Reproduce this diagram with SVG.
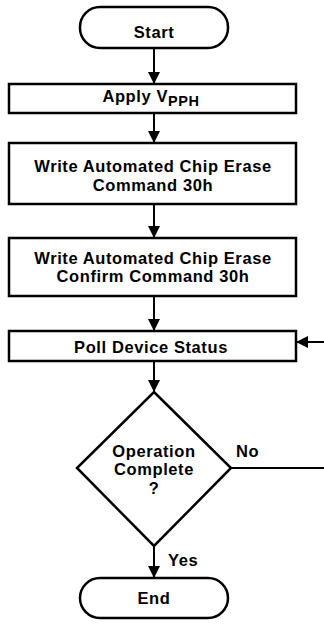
<svg xmlns="http://www.w3.org/2000/svg" width="324" height="624" viewBox="0 0 324 624">
<defs>
<marker id="arr" markerWidth="12" markerHeight="14" refX="12" refY="6" orient="auto" markerUnits="userSpaceOnUse" viewBox="0 0 12 12">
<path d="M0,0 L12,6 L0,12 Z" fill="#000"/>
</marker>
</defs>
<style>
.n{fill:#fff;stroke:#000;stroke-width:2.5}
.t{font-family:"Liberation Sans",Arial,sans-serif;font-weight:bold;font-size:16.5px;letter-spacing:0.6px;fill:#000;text-anchor:middle}
.l{font-family:"Liberation Sans",Arial,sans-serif;font-weight:bold;font-size:16.5px;letter-spacing:0.6px;fill:#000}
.c{fill:none;stroke:#000;stroke-width:2}
</style>
<rect width="324" height="624" fill="#fff"/>
<g id="connectors">
<line class="c" x1="154" y1="48" x2="154" y2="84" marker-end="url(#arr)"/>
<line class="c" x1="154" y1="113" x2="154" y2="143" marker-end="url(#arr)"/>
<line class="c" x1="154" y1="204" x2="154" y2="238" marker-end="url(#arr)"/>
<line class="c" x1="154" y1="296" x2="154" y2="331" marker-end="url(#arr)"/>
<line class="c" x1="154" y1="361" x2="154" y2="392" marker-end="url(#arr)"/>
<line class="c" x1="154" y1="546" x2="154" y2="578" marker-end="url(#arr)"/>
<line class="c" x1="231" y1="468" x2="324" y2="468"/>
<line class="c" x1="324" y1="342" x2="296" y2="342" marker-end="url(#arr)"/>
<text class="l" x="236" y="457">No</text>
<text class="l" x="168" y="566">Yes</text>
</g>
<g id="start">
<rect class="n" x="80" y="7" width="148" height="41" rx="20"/>
<text class="t" x="154" y="38">Start</text>
</g>
<g id="apply">
<rect class="n" x="9" y="84" width="287" height="29"/>
<text class="t" x="151" y="102">Apply V<tspan dy="4" font-size="14.5px">PPH</tspan></text>
</g>
<g id="write1">
<rect class="n" x="9" y="143" width="287" height="61"/>
<text class="t" x="153" y="172">Write Automated Chip Erase</text>
<text class="t" x="153" y="190.5">Command 30h</text>
</g>
<g id="write2">
<rect class="n" x="9" y="238" width="287" height="58"/>
<text class="t" x="153" y="263.5">Write Automated Chip Erase</text>
<text class="t" x="153" y="282">Confirm Command 30h</text>
</g>
<g id="poll">
<rect class="n" x="9" y="331" width="287" height="30"/>
<text class="t" x="151" y="352.5">Poll Device Status</text>
</g>
<g id="decision">
<polygon class="n" points="154,392 231,468 154,546 77,468"/>
<text class="t" x="154" y="456.5">Operation</text>
<text class="t" x="154" y="475">Complete</text>
<text class="t" x="154" y="493.5">?</text>
</g>
<g id="end">
<rect class="n" x="80" y="578" width="148" height="40" rx="20"/>
<text class="t" x="154" y="604">End</text>
</g>
</svg>
